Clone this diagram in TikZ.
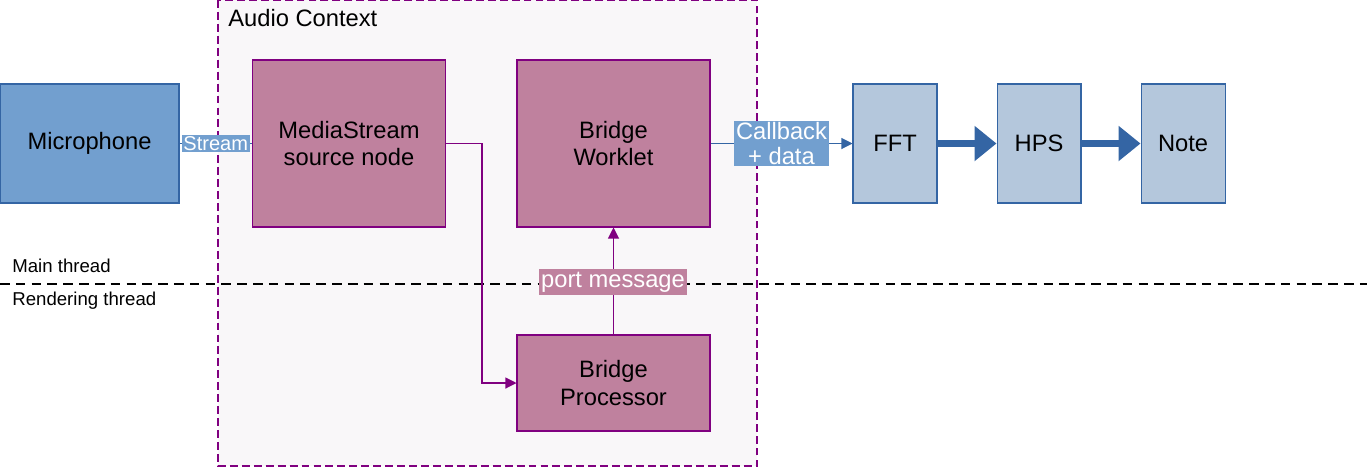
\documentclass[tikz,border=0pt]{standalone}
\usepackage{fontspec}
\setmainfont{Liberation Sans}
\usetikzlibrary{arrows.meta,positioning}
\definecolor{micblue}{HTML}{729FCF}
\definecolor{edgeblue}{HTML}{3465A4}
\definecolor{paleblue}{HTML}{B4C7DC}
\definecolor{mauve}{HTML}{BF819E}
\definecolor{edgepurple}{HTML}{800080}
\definecolor{ctxbg}{HTML}{F9F7F9}
\tikzset{
 bigtext/.style={font=\fontsize{13.5}{15.5}\selectfont},
 smalltext/.style={font=\fontsize{10.6}{12}\selectfont},
 srcbox/.style={draw=edgeblue,fill=micblue,line width=0.6pt,align=center,
             minimum width=3.58cm,minimum height=2.38cm,bigtext},
 nodebox/.style={draw=edgepurple,fill=mauve,line width=0.6pt,align=center,
             minimum width=3.86cm,minimum height=3.34cm,bigtext},
 stagebox/.style={draw=edgeblue,fill=paleblue,line width=0.6pt,align=center,
             minimum width=1.68cm,minimum height=2.38cm,bigtext},
 bluetag/.style={fill=micblue,text=white,inner sep=1pt,align=center},
 mauvetag/.style={fill=mauve,text=white,inner sep=1.5pt,bigtext},
 thinarrow/.style={-{Triangle[length=2.2mm,width=2.2mm]},line width=0.6pt},
 fatarrow/.style={-{Triangle[length=4.4mm,width=6.8mm]},line width=4pt,edgeblue}
}
\begin{document}
\begin{tikzpicture}[x=0.02cm,y=-0.02cm]
\useasboundingbox (0,0) rectangle (1367,468);
% audio context frame
\draw[edgepurple,fill=ctxbg,dash pattern=on 4.5pt off 2.3pt,line width=0.6pt]
  (218,0) rectangle (757,466);
\node[anchor=base west,inner sep=0pt,bigtext] (ctx) at (228,26) {Audio Context};
% thread boundary
\draw[dash pattern=on 5.5pt off 3.5pt,line width=0.8pt] (0,284) coordinate (sepl) -- (1367,284) coordinate (sepr);
\node[anchor=base west,inner sep=0pt,smalltext] (mainth) at (12,272) {Main thread};
\node[anchor=base west,inner sep=0pt,smalltext] (rendth) at (12,305) {Rendering thread};
% boxes
\node[srcbox] (mic) at (89.5,143.5) {Microphone};
\node[nodebox] (media) at (349,143.5) {MediaStream\\source node};
\node[nodebox] (worklet) at (613.5,143.5) {Bridge\\Worklet};
\node[nodebox,minimum height=1.92cm] (proc) at (613.5,383) {Bridge\\Processor};
\node[stagebox] (fft) at (895,143.5) {FFT};
\node[stagebox,right=1.18cm of fft] (hps) {HPS};
\node[stagebox,right=1.18cm of hps] (note) {Note};
% connectors
\draw[edgeblue,line width=0.6pt] (mic) -- node[bluetag,font=\fontsize{11.4}{13}\selectfont] (streamlbl) {Stream} (media);
\draw[thinarrow,edgepurple] (media.east) -| (482,383) -- (proc.west);
\draw[thinarrow,edgepurple] (proc.north) -- (worklet.south);
\node[mauvetag] (portlbl) at (613,282) {port message};
\draw[thinarrow,edgeblue] (worklet) -- node[bluetag,font=\fontsize{13.5}{14}\selectfont] (cblbl) {Callback\\+ data} (fft);
\draw[fatarrow] (fft) -- (hps);
\draw[fatarrow] (hps) -- (note);
\end{tikzpicture}
\end{document}
